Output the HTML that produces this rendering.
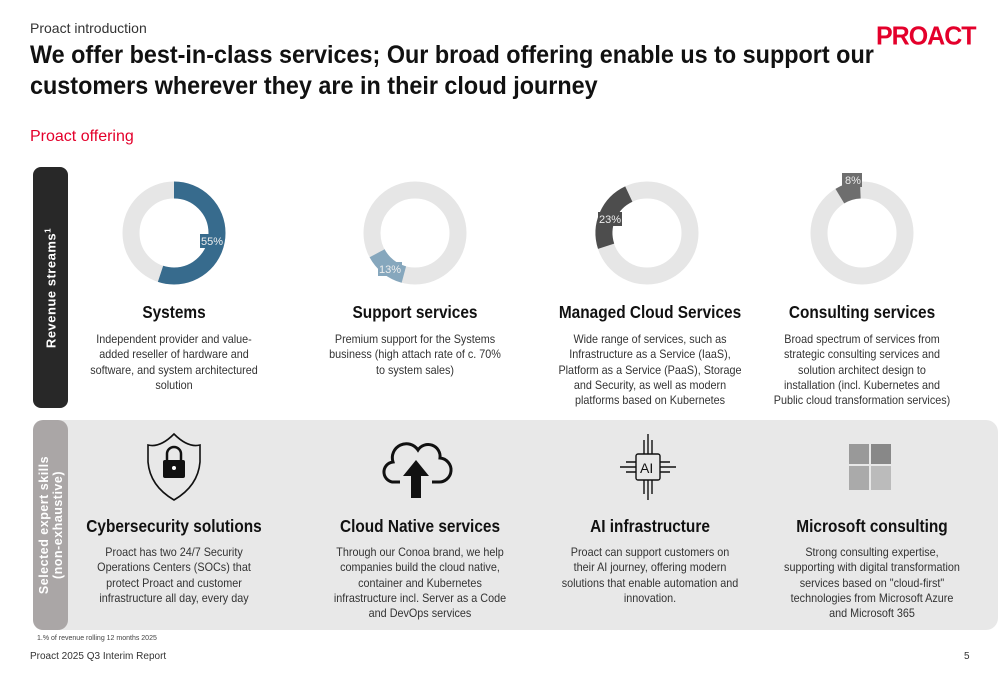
<!DOCTYPE html>
<html><head><meta charset="utf-8"><style>
body{margin:0;width:1000px;height:685px;background:#fff;font-family:"Liberation Sans",sans-serif;position:relative;overflow:hidden;color:#222}
.a{position:absolute}
.h{font-weight:bold;font-size:17.5px;text-align:center;width:240px;color:#111;transform:scaleX(0.88);white-space:nowrap}
.d{font-size:12px;text-align:center;width:240px;line-height:15.3px;color:#333;white-space:nowrap;transform:scaleX(0.9)}
</style></head><body>
<div class="a" style="left:30px;top:20px;font-size:14px;color:#333">Proact introduction</div>
<div class="a" style="left:30px;top:40px;font-size:25px;font-weight:bold;line-height:31px;color:#111;white-space:nowrap;transform:scaleX(0.935);transform-origin:left top">We offer best-in-class services; Our broad offering enable us to support our<br>customers wherever they are in their cloud journey</div>
<div class="a" style="left:876px;top:22px;font-size:25px;font-weight:900;color:#e4002b;letter-spacing:-1px;transform:scaleY(1.05)">PROACT</div>
<div class="a" style="left:30px;top:128px;font-size:16px;color:#e4002b">Proact offering</div>

<div class="a" style="left:33px;top:167px;width:35px;height:241px;background:#282828;border-radius:8px"></div>
<div class="a" style="left:51px;top:288px;transform:translate(-50%,-50%) rotate(-90deg);color:#fff;font-weight:bold;font-size:13px;white-space:nowrap;letter-spacing:0.5px">Revenue streams<sup style="font-size:8px">1</sup></div>

<div class="a" style="left:33px;top:420px;width:965px;height:210px;background:#e8e8e8;border-radius:12px"></div>
<div class="a" style="left:33px;top:420px;width:35px;height:210px;background:#aaa6a6;border-radius:10px"></div>
<div class="a" style="left:51px;top:525px;transform:translate(-50%,-50%) rotate(-90deg);color:#fff;font-weight:bold;font-size:12.5px;white-space:nowrap;text-align:center;line-height:14px;letter-spacing:0.5px">Selected expert skills<br>(non-exhaustive)</div>

<svg class="a" style="left:0;top:0" width="1000" height="420">
<g fill="none" stroke-width="17">
<circle cx="174" cy="233" r="43" stroke="#e6e6e6"/>
<circle cx="174" cy="233" r="43" stroke="#376b8d" stroke-dasharray="148.6 400" transform="rotate(-90 174 233)"/>
<circle cx="415" cy="233" r="43" stroke="#e6e6e6"/>
<circle cx="415" cy="233" r="43" stroke="#86a7bd" stroke-dasharray="35.1 400" transform="rotate(105 415 233)"/>
<circle cx="647" cy="233" r="43" stroke="#e6e6e6"/>
<circle cx="647" cy="233" r="43" stroke="#4d4d4d" stroke-dasharray="62.1 400" transform="rotate(162 647 233)"/>
<circle cx="862" cy="233" r="43" stroke="#e6e6e6"/>
<circle cx="862" cy="233" r="43" stroke="#6e6e6e" stroke-dasharray="21.6 400" transform="rotate(239 862 233)"/>
</g>
<g font-family="Liberation Sans" font-size="11" fill="#eee">
<rect x="200" y="234" width="22" height="14" fill="#376b8d"/><text x="201" y="245">55%</text>
<rect x="378" y="262" width="24" height="14" fill="#86a7bd"/><text x="379" y="273">13%</text>
<rect x="598" y="212" width="24" height="14" fill="#4d4d4d"/><text x="599" y="223">23%</text>
<rect x="842" y="173" width="20" height="14" fill="#6e6e6e"/><text x="845" y="184">8%</text>
</g>
</svg>

<div class="a h" style="left:54px;top:302px">Systems</div>
<div class="a d" style="left:54px;top:332px">Independent provider and value-<br>added reseller of hardware and<br>software, and system architectured<br>solution</div>
<div class="a h" style="left:295px;top:302px">Support services</div>
<div class="a d" style="left:295px;top:332px">Premium support for the Systems<br>business (high attach rate of c. 70%<br>to system sales)</div>
<div class="a h" style="left:530px;top:302px">Managed Cloud Services</div>
<div class="a d" style="left:530px;top:332px">Wide range of services, such as<br>Infrastructure as a Service (IaaS),<br>Platform as a Service (PaaS), Storage<br>and Security, as well as modern<br>platforms based on Kubernetes</div>
<div class="a h" style="left:742px;top:302px">Consulting services</div>
<div class="a d" style="left:742px;top:332px">Broad spectrum of services from<br>strategic consulting services and<br>solution architect design to<br>installation (incl. Kubernetes and<br>Public cloud transformation services)</div>

<svg class="a" style="left:0;top:420px" width="1000" height="100">
<path d="M174 14 Q160 28 148 25 L148 42 Q150 66 174 80 Q198 66 200 42 L200 25 Q188 28 174 14Z" fill="none" stroke="#111" stroke-width="1.6"/>
<path d="M167 40 V34 a7 7 0 0 1 14 0 V40" fill="none" stroke="#111" stroke-width="2.5"/>
<rect x="163" y="40" width="22" height="18" rx="2" fill="#111"/>
<circle cx="174" cy="48" r="2" fill="#fff"/>
<path d="M400 62 H395 a10 10 0 0 1 -2 -20 a14 14 0 0 1 25 -12 a12 12 0 0 1 22 8 a10 10 0 0 1 -2 24 H432" fill="none" stroke="#111" stroke-width="3"/>
<path d="M416 40 L403 56 H411 V78 H421 V56 H429Z" fill="#111"/>
<g stroke="#111" stroke-width="1.4" fill="none">
<rect x="636" y="34" width="24" height="26" rx="2"/>
<path d="M644 34 V20 M648 34 V14 M652 34 V20 M644 60 V74 M648 60 V80 M652 60 V74 M636 42 H626 M636 47 H620 M636 52 H626 M660 42 H670 M660 47 H676 M660 52 H670"/>
</g>
<text x="640" y="53" font-size="14" font-family="Liberation Sans" fill="#111">AI</text>
<rect x="849" y="24" width="20" height="20" fill="#999"/><rect x="871" y="24" width="20" height="20" fill="#888"/>
<rect x="849" y="46" width="20" height="24" fill="#aaa"/><rect x="871" y="46" width="20" height="24" fill="#bbb"/>
</svg>

<div class="a h" style="left:54px;top:516px">Cybersecurity solutions</div>
<div class="a d" style="left:54px;top:545px">Proact has two 24/7 Security<br>Operations Centers (SOCs) that<br>protect Proact and customer<br>infrastructure all day, every day</div>
<div class="a h" style="left:300px;top:516px">Cloud Native services</div>
<div class="a d" style="left:300px;top:545px">Through our Conoa brand, we help<br>companies build the cloud native,<br>container and Kubernetes<br>infrastructure incl. Server as a Code<br>and DevOps services</div>
<div class="a h" style="left:530px;top:516px">AI infrastructure</div>
<div class="a d" style="left:530px;top:545px">Proact can support customers on<br>their AI journey, offering modern<br>solutions that enable automation and<br>innovation.</div>
<div class="a h" style="left:752px;top:516px">Microsoft consulting</div>
<div class="a d" style="left:752px;top:545px">Strong consulting expertise,<br>supporting with digital transformation<br>services based on "cloud-first"<br>technologies from Microsoft Azure<br>and Microsoft 365</div>

<div class="a" style="left:37px;top:635px;font-size:7px;color:#444">1.% of revenue rolling 12 months 2025</div>
<div class="a" style="left:30px;top:651px;font-size:10px;color:#333">Proact 2025 Q3 Interim Report</div>
<div class="a" style="left:964px;top:651px;font-size:10px;color:#333">5</div>
</body></html>
